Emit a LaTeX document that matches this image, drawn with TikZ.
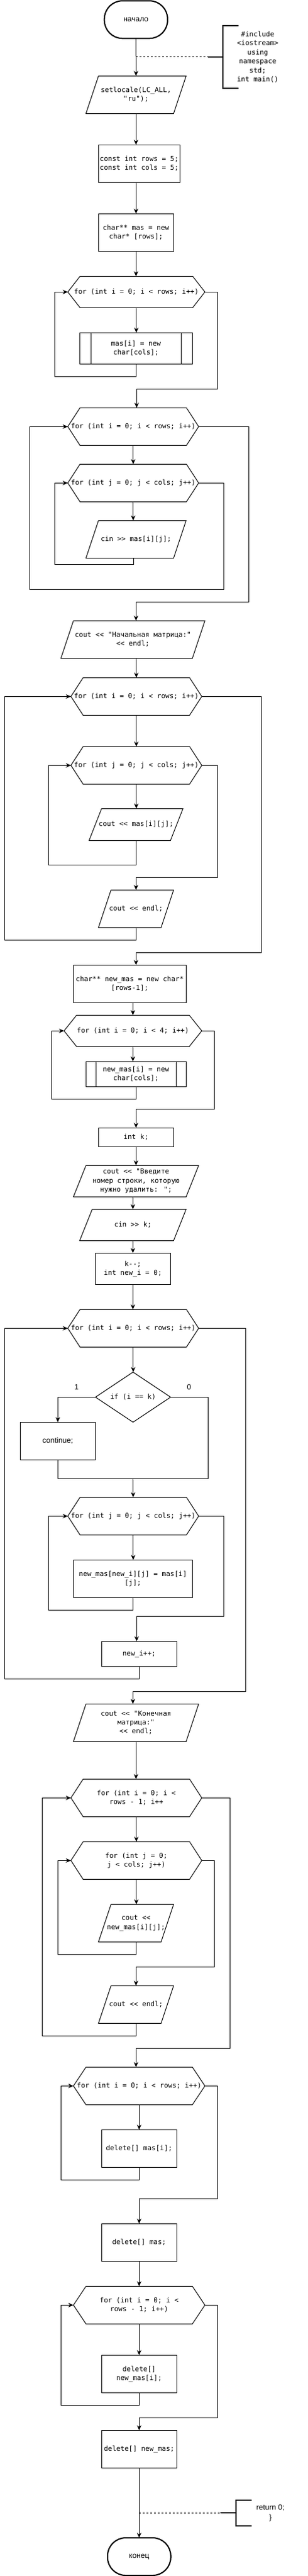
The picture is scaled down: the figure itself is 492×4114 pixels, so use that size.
\documentclass[tikz,border=0pt]{standalone}
\usepackage{fontspec}
\newfontfamily\monoF{DejaVu Sans Mono}
\newfontfamily\sansF{Liberation Sans}
\usetikzlibrary{arrows.meta}
\newcommand\hexout[2]{\draw[shp] ([xshift=#2]#1.north west) -- ([xshift=-#2]#1.north east) -- (#1.east) -- ([xshift=-#2]#1.south east) -- ([xshift=#2]#1.south west) -- (#1.west) -- cycle;}
\newcommand\paraout[2]{\draw[shp] ([xshift=#2]#1.north west) -- (#1.north east) -- ([xshift=-#2]#1.south east) -- (#1.south west) -- cycle;}
\newcommand\predout[2]{\draw ([xshift=#2]#1.north west) -- ([xshift=#2]#1.south west); \draw ([xshift=-#2]#1.north east) -- ([xshift=-#2]#1.south east);}
\begin{document}
\begin{tikzpicture}[x=1pt,y=-1pt,
  line width=1pt,
  every node/.style={inner sep=0pt, outer sep=0pt, align=center, font=\monoF\fontsize{11}{14.4}\selectfont},
  arr/.style={-{Stealth[length=8pt,width=7pt,inset=2.5pt]}},
  sz/.style 2 args={minimum width=#1pt, minimum height=#2pt},
  rbox/.style={draw},
  term/.style={draw, line width=2pt, rounded corners=29pt, font=\sansF\fontsize{12}{14}\selectfont},
  sansT/.style={font=\sansF\fontsize{12}{16}\selectfont},
  shp/.style={line width=1pt, line join=miter},
  brk/.style={line width=2pt},
  dsh/.style={line width=0.8pt, dash pattern=on 3pt off 3pt},
]
\fill[white] (0,0) rectangle (492,4114);
\useasboundingbox (0,0) rectangle (492,4114);

% ---------- nodes ----------
\node[term, sz={101}{60}] (t0) at (217.2,31.3) {начало};
\node (n1) at (411.7,91) {\#include\\<iostream>\\using\\namespace\\std;\\int main()};
\node[sz={160}{60}] (p1) at (217.3,151.3) {setlocale(LC\_ALL,\\"ru");};
\paraout{p1}{20pt}
\node[rbox, sz={130}{60}] (r1) at (222.3,261.3) {const int rows = 5;\\const int cols = 5;};
\node[rbox, sz={120}{60}] (r2) at (217.3,371.3) {char** mas = new\\char* [rows];};
\node[sz={219}{50}] (h1) at (217.8,466.3) {for (int i = 0; i < rows; i++)};
\hexout{h1}{19.5pt}
\node[rbox, sz={180}{50}] (pp1) at (217.3,556.3) {mas[i] = new\\char[cols];};
\predout{pp1}{18pt}
\node[sz={209}{60}] (h2) at (212.8,681.3) {for (int i = 0; i < rows; i++)};
\hexout{h2}{19.5pt}
\node[sz={209}{60}] (h3) at (212.8,771.3) {for (int j = 0; j < cols; j++)};
\hexout{h3}{19.5pt}
\node[sz={160}{60}] (p2) at (217.3,861.3) {cin >{}> mas[i][j];};
\paraout{p2}{20pt}
\node[sz={230}{60}] (p3) at (212.3,1021.3) {cout <{}< "Начальная матрица:"\\<{}< endl;};
\paraout{p3}{20pt}
\node[sz={209}{60}] (h4) at (217.8,1112.3) {for (int i = 0; i < rows; i++)};
\hexout{h4}{19.5pt}
\node[sz={209}{60}] (h5) at (217.8,1222.3) {for (int j = 0; j < cols; j++)};
\hexout{h5}{19.5pt}
\node[sz={150}{51}] (p4) at (217.3,1316.8) {cout <{}< mas[i][j];};
\paraout{p4}{20pt}
\node[sz={120}{60}] (p5) at (217.3,1451.3) {cout <{}< endl;};
\paraout{p5}{20pt}
\node[rbox, sz={180}{60}] (r3) at (207.3,1571.3) {char** new\_mas = new char*\\{}[rows-1];};
\node[sz={220}{50}] (h6) at (212.3,1646.3) {for (int i = 0; i < 4; i++)};
\hexout{h6}{20pt}
\node[rbox, sz={160}{40}] (pp2) at (217.3,1715.3) {new\_mas[i] = new\\char[cols];};
\predout{pp2}{16pt}
\node[rbox, sz={120}{30}] (r4) at (217.3,1816.3) {int k;};
\node[sz={200}{50}] (p6) at (217.3,1886.3) {cout <{}< "Введите\\номер строки, которую\\нужно удалить: ";};
\paraout{p6}{20pt}
\node[sz={170}{50}] (p7) at (212.3,1956.3) {cin >{}> k;};
\paraout{p7}{20pt}
\node[rbox, sz={120}{50}] (r5) at (212.3,2026.3) {k-{}-;\\int new\_i = 0;};
\node[sz={209}{60}] (h7) at (212.8,2121.3) {for (int i = 0; i < rows; i++)};
\hexout{h7}{19.5pt}
\node[sz={120}{80}] (d1) at (212.5,2231.3) {if (i == k)};
\draw[shp] (d1.north) -- (d1.east) -- (d1.south) -- (d1.west) -- cycle;
\node[sansT] (l1) at (122.3,2215.7) {1};
\node[sansT] (l0) at (302,2215.7) {0};
\node[rbox, sz={120}{60}, sansT] (r6) at (92.3,2301.3) {continue;};
\node[sz={209}{60}] (h8) at (212.8,2421.3) {for (int j = 0; j < cols; j++)};
\hexout{h8}{19.5pt}
\node[rbox, sz={190}{60}] (r7) at (212.3,2521.3) {new\_mas[new\_i][j] = mas[i]\\{}[j];};
\node[rbox, sz={120}{40}] (r8) at (222.3,2641.3) {new\_i++;};
\node[sz={200}{60}] (p8) at (217.3,2751.3) {cout <{}< "Конечная\\матрица:"\\<{}< endl;};
\paraout{p8}{20pt}
\node[sz={209}{60}] (h9) at (217.8,2871.3) {for (int i = 0; i <\\rows - 1; i++};
\hexout{h9}{19.5pt}
\node[sz={209}{60}] (h10) at (217.8,2971.3) {for (int j = 0;\\j < cols; j++)};
\hexout{h10}{19.5pt}
\node[sz={120}{60}] (p9) at (217.3,3071.3) {cout <{}<\\new\_mas[i][j];};
\paraout{p9}{20pt}
\node[sz={120}{60}] (p10) at (217.3,3201.3) {cout <{}< endl;};
\paraout{p10}{20pt}
\node[sz={210}{60}] (h11) at (222.3,3331.3) {for (int i = 0; i < rows; i++)};
\hexout{h11}{20pt}
\node[rbox, sz={120}{60}] (r9) at (222.3,3431.3) {delete[] mas[i];};
\node[rbox, sz={120}{60}] (r10) at (222.3,3581.3) {delete[] mas;};
\node[sz={210}{60}] (h12) at (222.3,3681.3) {for (int i = 0; i <\\rows - 1; i++)};
\hexout{h12}{20pt}
\node[rbox, sz={120}{60}] (r11) at (222.3,3791.3) {delete[]\\new\_mas[i];};
\node[rbox, sz={120}{60}] (r12) at (222.3,3911.3) {delete[] new\_mas;};
\node[term, sz={101}{60}] (t1) at (222.3,4083) {конец};
\node[sansT] (n2) at (432,4013.7) {return 0;\\\}};

% ---------- comment brackets ----------
\coordinate (a1) at (217.3,90.7);
\coordinate (b1) at (331.7,90.7);
\draw[dsh] (a1) -- (b1);
\draw[brk] (b1) -- (356,90.7);
\draw[brk] (381,41.3) -- (356,41.3) -- (356,141.3) -- (381,141.3);
\coordinate (a2) at (222.3,4013.3);
\coordinate (b2) at (352.3,4013.3);
\draw[dsh] (a2) -- (b2);
\draw[brk] (b2) -- (377,4013.3);
\draw[brk] (402.3,3993.3) -- (377,3993.3) -- (377,4033.7) -- (402.3,4033.7);

% ---------- connectors ----------
\draw[arr] (t0.south) -- (p1.north);
\draw[arr] (p1.south) -- (p1.south |- r1.north);
\draw[arr] (r2.north |- r1.south) -- (r2.north);
\draw[arr] (r2.south) -- (r2.south |- h1.north);
\draw[arr] (h1.south) -- (h1.south |- pp1.north);
\draw[arr] (pp1.south) |- (87.3,601) |- (h1.west);
\draw[arr] (h1.east) -| (347.3,621) -| ([xshift=5.5pt]h2.north);
\draw[arr] (h2.south) -- (h3.north);
\draw[arr] (h3.south) -- (h3.south |- p2.north);
\draw[arr] ([xshift=-4pt]p2.south) |- (87.3,901) |- (h3.west);
\draw[arr] (h3.east) -| (357.3,941) -- (47.3,941) |- (h2.west);
\draw[arr] (h2.east) -| (397.3,961) -| ([xshift=5pt]p3.north);
\draw[arr] (h4.north |- p3.south) -- (h4.north);
\draw[arr] (h4.south) -- (h5.north);
\draw[arr] (h5.south) -- (h5.south |- p4.north);
\draw[arr] (p4.south) |- (77.3,1381.3) |- (h5.west);
\draw[arr] (h5.east) -| (347.3,1401.3) -| (p5.north);
\draw[arr] (p5.south) |- (7.3,1501.3) |- (h4.west);
\draw[arr] (h4.east) -| (417.3,1521.3) -| ([xshift=10pt]r3.north);
\draw[arr] (h6.north |- r3.south) -- (h6.north);
\draw[arr] (h6.south) -- (h6.south |- pp2.north);
\draw[arr] (pp2.south) |- (82.3,1755) |- (h6.west);
\draw[arr] (h6.east) -| (342.3,1771) -| (r4.north);
\draw[arr] (r4.south) -- (p6.north);
\draw[arr] (p7.north |- p6.south) -- (p7.north);
\draw[arr] (p7.south) -- (r5.north);
\draw[arr] (r5.south) -- (r5.south |- h7.north);
\draw[arr] (h7.south) -- (h7.south |- d1.north);
\draw[arr] (d1.west) -| (r6.north);
\draw (d1.east) -| (332.3,2361.3) -| (r6.south);
\coordinate (m1) at (212.7,2361.3);
\draw[arr] (m1) -- (m1 |- h8.north);
\draw[arr] (h8.south) -- (h8.south |- r7.north);
\draw[arr] (r7.south) |- (77.3,2571.3) |- (h8.west);
\draw[arr] (h8.east) -| (357.3,2581.3) -| ([xshift=-4pt]r8.north);
\draw[arr] (r8.south) |- (7.3,2681.3) |- (h7.west);
\draw[arr] (h7.east) -| (392.3,2701.3) -| ([xshift=-5pt]p8.north);
\draw[arr] (p8.south) -- (p8.south |- h9.north);
\draw[arr] (h9.south) -- (h10.north);
\draw[arr] (h10.south) -- (h10.south |- p9.north);
\draw[arr] (p9.south) |- (92.3,3121.3) |- (h10.west);
\draw[arr] (h10.east) -| (342.3,3141.3) -| (p10.north);
\draw[arr] (p10.south) |- (67.3,3251.3) |- (h9.west);
\draw[arr] (h9.east) -| (367.3,3271.3) -| ([xshift=-5pt]h11.north);
\draw[arr] (h11.south) -- (r9.north);
\draw[arr] (r9.south) |- (97.3,3481) |- (h11.west);
\draw[arr] (h11.east) -| (347.3,3511.3) -| (r10.north);
\draw[arr] (r10.south) -- (h12.north);
\draw[arr] (h12.south) -- (r11.north);
\draw[arr] (r11.south) |- (97.3,3841.3) |- (h12.west);
\draw[arr] (h12.east) -| (347.3,3861.3) -| (r12.north);
\draw[arr] (r12.south) -- (t1.north);
\end{tikzpicture}
\end{document}
